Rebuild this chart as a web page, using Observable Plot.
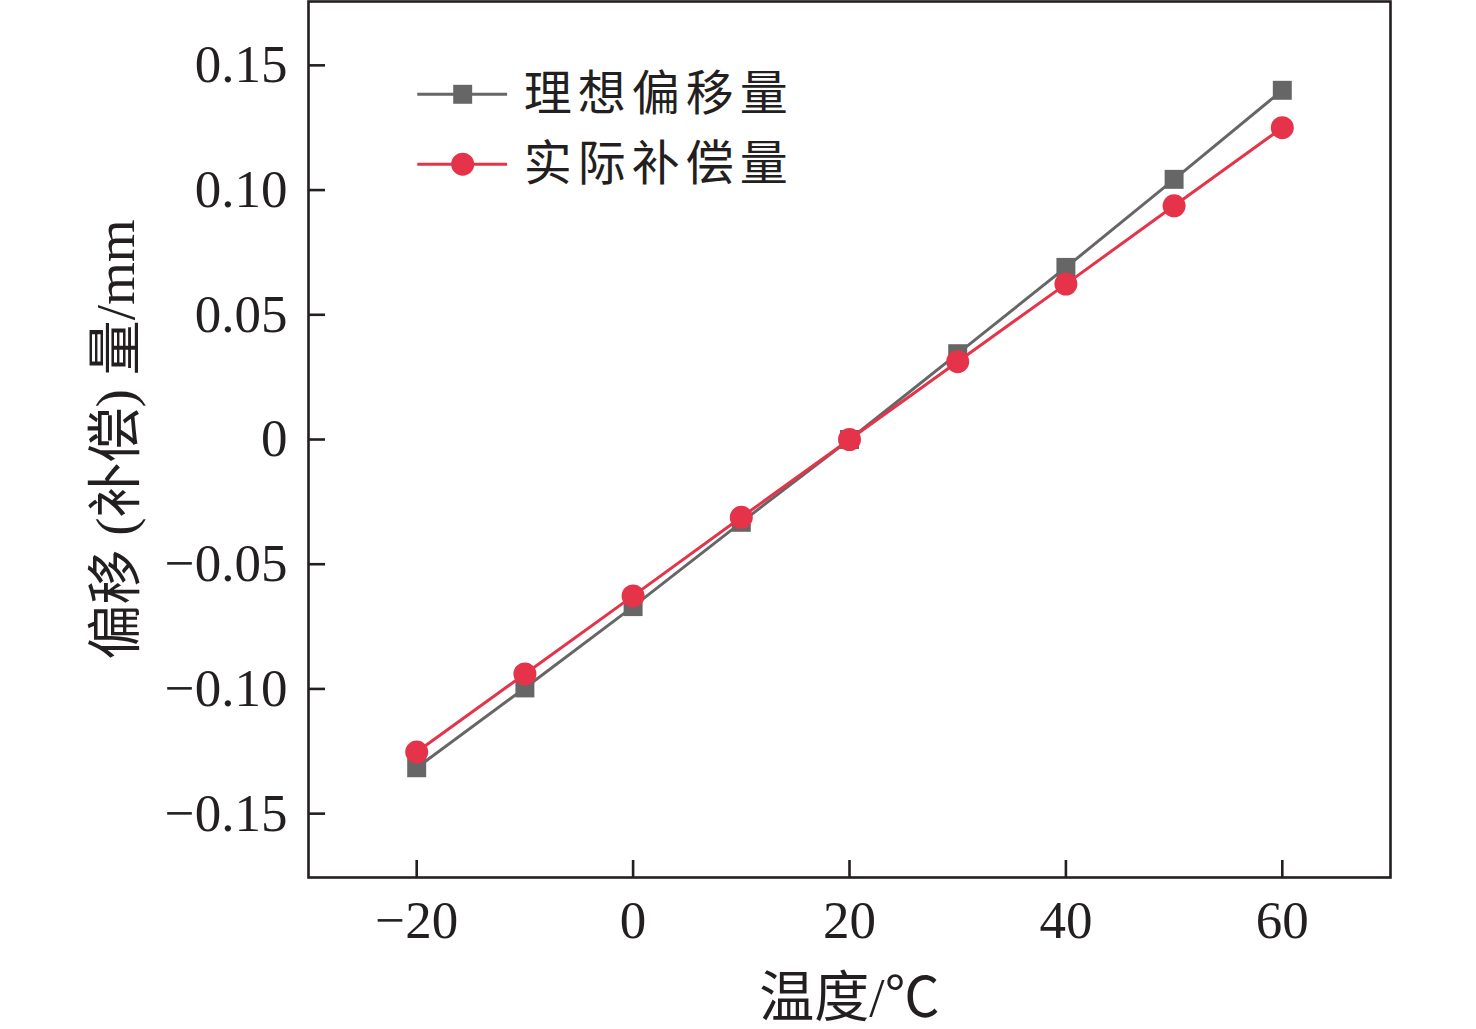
<!DOCTYPE html>
<html>
<head>
<meta charset="utf-8">
<script src="https://cdn.jsdelivr.net/npm/d3@7"></script>
<script src="https://cdn.jsdelivr.net/npm/@observablehq/plot@0.6"></script>
<style>
  html, body { margin: 0; padding: 0; background: #fff; overflow: hidden; }
  #chart svg { display: block; }
</style>
</head>
<body>
<div id="chart"></div>
<script>
const temperatures = [-20, -10, 0, 10, 20, 30, 40, 50, 60];
const idealOffset = [-0.1316, -0.0996, -0.0670, -0.0332, 0, 0.0344, 0.0690, 0.1043, 0.1400];
const actualComp  = [-0.1253, -0.0940, -0.0627, -0.0312, 0, 0.0312, 0.0623, 0.0937, 0.1250];
const seriesNames = ["理想偏移量", "实际补偿量"];
const xTicks = [-20, 0, 20, 40, 60];
const yTicks = [-0.15, -0.10, -0.05, 0, 0.05, 0.10, 0.15];
const xLabel = "温度/℃";
const yLabel = "偏移 (补偿) 量/mm";
// legend anchor positions in data units
const legendX = [-19.9, -11.6];
const legendMarkX = -15.75;
const legendTextX = -10.1;
const legendY = [0.1384, 0.1104];

const gray = "#666666";
const red = "#e5334a";
const font = "'Liberation Serif', 'Noto Sans CJK SC', serif";

const ideal = temperatures.map((t, i) => ({t, v: idealOffset[i]}));
const actual = temperatures.map((t, i) => ({t, v: actualComp[i]}));
const fmtY = d => d === 0 ? "0" : (d < 0 ? "\u2212" : "") + Math.abs(d).toFixed(2);
const fmtX = d => (d < 0 ? "\u2212" : "") + Math.abs(d);

const legendLines = seriesNames.map((name, i) => ({name, y: legendY[i], color: i === 0 ? gray : red}));

const chart = Plot.plot({
  width: 1476,
  height: 1029,
  marginLeft: 308,
  marginRight: 86,
  marginTop: 1,
  marginBottom: 152,
  style: {fontFamily: font, background: "#fff", overflow: "visible"},
  x: {domain: [-30, 70]},
  y: {domain: [-0.1756, 0.1756]},
  marks: [
    Plot.frame({stroke: "#231f20", strokeWidth: 2.6}),
    Plot.axisY(yTicks, {
      anchor: "left", tickSize: -17, tickPadding: 38, strokeWidth: 2.6, stroke: "#231f20",
      tickFormat: fmtY, fontSize: 53, fill: "#231f20",
      label: yLabel, labelAnchor: "center", labelOffset: 214, labelArrow: "none"
    }),
    Plot.axisX(xTicks, {
      anchor: "bottom", tickSize: -17, tickPadding: 40, strokeWidth: 2.6, stroke: "#231f20",
      tickFormat: fmtX, fontSize: 53, fill: "#231f20",
      label: xLabel, labelAnchor: "center", labelOffset: 138, labelArrow: "none"
    }),
    Plot.line(ideal, {x: "t", y: "v", stroke: gray, strokeWidth: 3}),
    Plot.dot(ideal, {x: "t", y: "v", symbol: "square", r: 10.7, fill: gray}),
    Plot.line(actual, {x: "t", y: "v", stroke: red, strokeWidth: 3}),
    Plot.dot(actual, {x: "t", y: "v", symbol: "circle", r: 11.5, fill: red}),
    // legend
    Plot.ruleY(legendLines, {x1: legendX[0], x2: legendX[1], y: "y", stroke: "color", strokeWidth: 3}),
    Plot.dot([legendLines[0]], {x: legendMarkX, y: "y", symbol: "square", r: 10.7, fill: gray}),
    Plot.dot([legendLines[1]], {x: legendMarkX, y: "y", symbol: "circle", r: 11.5, fill: red}),
    Plot.text(legendLines, {x: legendTextX, y: "y", text: "name", textAnchor: "start", fontSize: 48, lineHeight: 1, fill: "#231f20", fontFamily: "'Noto Sans CJK SC', sans-serif"})
  ]
});
chart.querySelectorAll("[aria-label='y-axis label'] text, [aria-label='x-axis label'] text").forEach(t => {
  t.setAttribute("font-size", 55);
  t.style.fontSize = "55px";
  t.setAttribute("fill", "#231f20");
});
chart.querySelectorAll("[aria-label='text'] text").forEach(t => {
  t.setAttribute("letter-spacing", 6);
});
document.getElementById("chart").appendChild(chart);
</script>
</body>
</html>
